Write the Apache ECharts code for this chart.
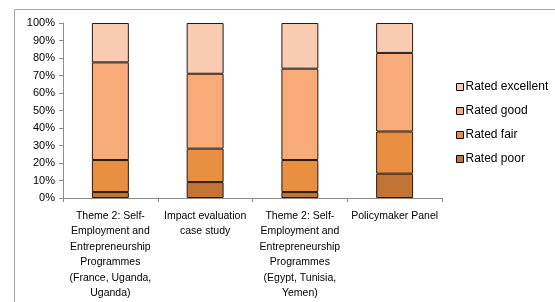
<!DOCTYPE html>
<html><head><meta charset="utf-8">
<script src="https://cdn.jsdelivr.net/npm/echarts@6/dist/echarts.min.js"></script>
<style>html,body{margin:0;padding:0;background:#fff}#c{width:555px;height:302px}</style>
</head><body><div id="c"></div>
<script>
const categories = [
  "Theme 2: Self-\nEmployment and\nEntrepreneurship\nProgrammes\n(France, Uganda,\nUganda)",
  "Impact evaluation\ncase study",
  "Theme 2: Self-\nEmployment and\nEntrepreneurship\nProgrammes\n(Egypt, Tunisia,\nYemen)",
  "Policymaker Panel"
];
const ratedPoor = [3.4, 9.1, 3.4, 13.9];
const ratedFair = [18.3, 19.1, 18.3, 24.1];
const ratedGood = [55.8, 42.8, 52.2, 44.9];
const ratedExcellent = [22.5, 29.0, 26.1, 17.1];
const yTicks = [0,10,20,30,40,50,60,70,80,90,100];

const font = "Liberation Sans, Arial, sans-serif";
function ser(name, data, color) {
  return { name, type: 'bar', stack: 'a', data, barWidth: '39%',
    itemStyle: { color, borderColor: '#2a1a10', borderWidth: 1 } };
}
const chart = echarts.init(document.getElementById('c'));
chart.setOption({
  animation: false,
  graphic: [{ type: 'rect', shape: { x: 14.5, y: 9.5, width: 600, height: 400 },
    style: { fill: 'none', stroke: '#a6a6a6', lineWidth: 1 }, silent: true }],
  grid: { left: 63, right: 113, top: 23, bottom: 104 },
  legend: {
    orient: 'vertical', left: 451, top: 76, itemWidth: 7, itemHeight: 7, itemGap: 12,
    icon: 'rect',
    textStyle: { fontFamily: font, fontSize: 12, color: '#000', padding: [0,0,0,-3] },
    data: ['Rated excellent', 'Rated good', 'Rated fair', 'Rated poor'],
    itemStyle: { borderColor: '#000', borderWidth: 1 }
  },
  xAxis: {
    type: 'category', data: categories,
    axisLine: { lineStyle: { color: '#8c8c8c' } },
    axisTick: { show: true, alignWithLabel: false, length: 4, lineStyle: { color: '#8c8c8c' } },
    axisLabel: { interval: 0, fontFamily: font, fontSize: 10.5, color: '#000', lineHeight: 15.5, margin: 10 }
  },
  yAxis: {
    type: 'value', min: 0, max: 100, interval: 10,
    axisLine: { show: true, lineStyle: { color: '#8c8c8c' } },
    axisTick: { show: true, length: 4, lineStyle: { color: '#8c8c8c' } },
    splitLine: { show: false },
    axisLabel: { fontFamily: font, fontSize: 11, color: '#000', margin: 8,
      formatter: v => yTicks.includes(v) ? v + '%' : '' }
  },
  series: [
    ser('Rated poor', ratedPoor, '#C27436'),
    ser('Rated fair', ratedFair, '#E88F41'),
    ser('Rated good', ratedGood, '#F7AB79'),
    ser('Rated excellent', ratedExcellent, '#F9CBB3')
  ]
});
</script></body></html>
